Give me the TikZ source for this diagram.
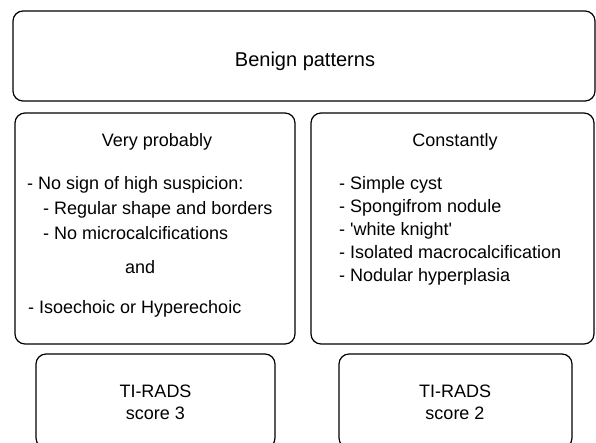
\documentclass[tikz,border=0pt]{standalone}
\usepackage{fontspec}
\setmainfont{Liberation Sans}
\begin{document}
\begin{tikzpicture}[x=1pt, y=-1pt,
  box/.style={draw=black, line width=1.2pt, rounded corners=10pt, inner sep=0pt},
  txt/.style={font=\fontsize{18}{22}\selectfont, inner sep=0pt}]
\useasboundingbox (0,0) rectangle (596,442);
\node[box, minimum width=582pt, minimum height=90pt] (benign) at (304,56) {};
\node[box, minimum width=280pt, minimum height=231pt] (vprob) at (155,228.5) {};
\node[box, minimum width=283pt, minimum height=231pt] (const) at (452.5,228.5) {};
\node[box, minimum width=239pt, minimum height=94pt] (score3) at (155.5,401) {};
\node[box, minimum width=233pt, minimum height=94pt] (score2) at (455.5,401) {};
\node[txt, font=\fontsize{20}{24}\selectfont, anchor=base] (tbenign) at (305,66) {Benign patterns};
% very probably
\node[txt, anchor=base] (tvprob) at (157,146) {Very probably};
\node[txt, anchor=base west] (l1) at (27,189) {- No sign of high suspicion:};
\node[txt, anchor=base west] (l2) at (43,214) {- Regular shape and borders};
\node[txt, anchor=base west] (l3) at (43,239) {- No microcalcifications};
\node[txt, anchor=base west] (l4) at (125,273) {and};
\node[txt, anchor=base west] (l5) at (28,313) {- Isoechoic or Hyperechoic};
% constantly
\node[txt, anchor=base] (tconst) at (455,146) {Constantly};
\foreach \t [count=\i] in {Simple cyst, Spongifrom nodule, \textquotesingle white knight\textquotesingle, Isolated macrocalcification, Nodular hyperplasia}
  \node[txt, anchor=base west] (c\i) at (339,166+23*\i) {- \t};
% scores
\node[txt, align=center, anchor=base] (t3) at (155.5,419) {TI-RADS\\score 3};
\node[txt, align=center, anchor=base] (t2) at (455,419) {TI-RADS\\score 2};
\end{tikzpicture}
\end{document}
